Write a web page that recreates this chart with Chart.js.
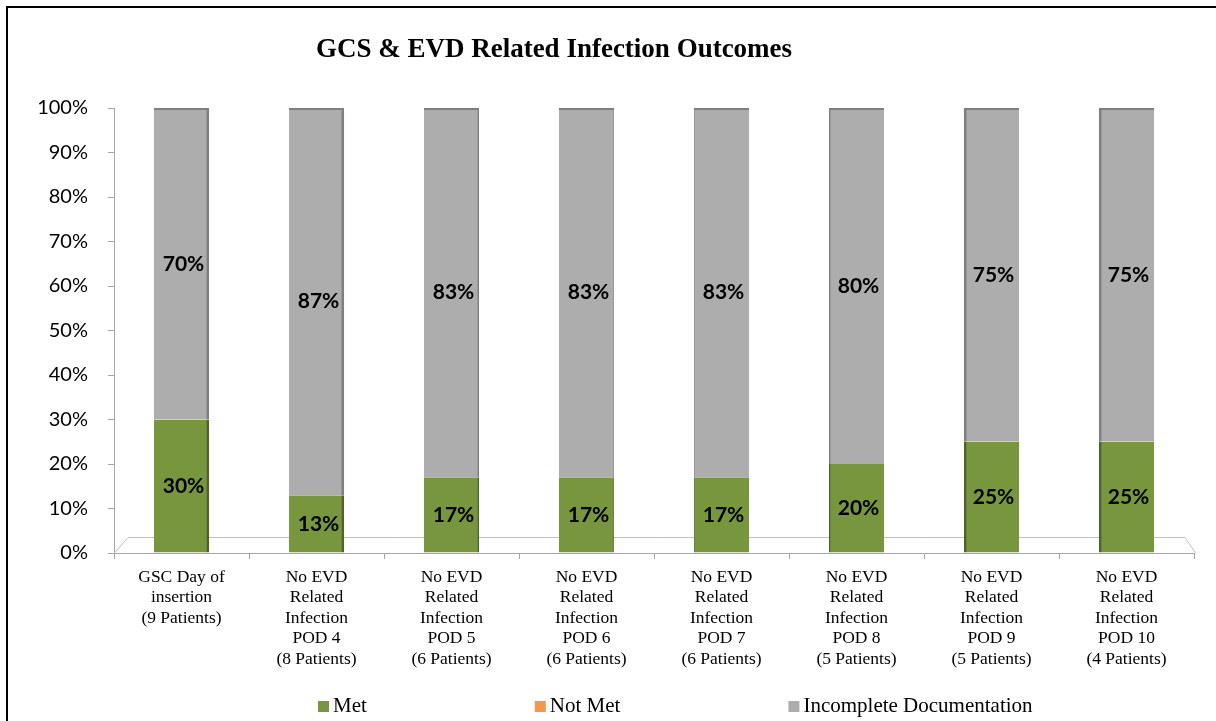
<!DOCTYPE html>
<html>
<head>
<meta charset="utf-8">
<script src="https://cdn.jsdelivr.net/npm/chart.js@4.4.1/dist/chart.umd.min.js"></script>
<style>
  html, body { margin: 0; padding: 0; background: #fff; overflow: hidden; }
  #wrap { position: relative; width: 1216px; height: 721px; overflow: hidden; }
  #frame { position: absolute; left: 6px; top: 6px; width: 1300px; height: 800px; border: 2px solid #000; box-sizing: border-box; pointer-events: none; }
  canvas { position: absolute; left: 0; top: 0; }
</style>
</head>
<body>
<div id="wrap">
  <canvas id="c" width="1216" height="721"></canvas>
  <div id="frame"></div>
</div>
<script>
// ---- Data ----
const chartTitle = "GCS & EVD Related Infection Outcomes";
const categories = [
  ["GSC Day of", "insertion", "(9 Patients)"],
  ["No EVD", "Related", "Infection", "POD 4", "(8 Patients)"],
  ["No EVD", "Related", "Infection", "POD 5", "(6 Patients)"],
  ["No EVD", "Related", "Infection", "POD 6", "(6 Patients)"],
  ["No EVD", "Related", "Infection", "POD 7", "(6 Patients)"],
  ["No EVD", "Related", "Infection", "POD 8", "(5 Patients)"],
  ["No EVD", "Related", "Infection", "POD 9", "(5 Patients)"],
  ["No EVD", "Related", "Infection", "POD 10", "(4 Patients)"]
];
const seriesNames = ["Met", "Not Met", "Incomplete Documentation"];
const metValues = [30, 13, 17, 17, 17, 20, 25, 25];
const notMetValues = [0, 0, 0, 0, 0, 0, 0, 0];
const incompleteValues = [70, 87, 83, 83, 83, 80, 75, 75];
const yTickValues = [0, 10, 20, 30, 40, 50, 60, 70, 80, 90, 100];

// ---- Styles ----
const colors = ["#78963E", "#F79646", "#ADADAD"];
const sideColors = ["#4F6228", "#B65708", "#7F7F7F"];
const axisColor = "#A6A6A6";

function sideBorder(ctx, withTop) {
  const i = ctx.dataIndex;
  const n = categories.length;
  const w = [3, 3, 2, 1, 1, 2, 3, 3][i] || 2;
  const b = { left: 0, right: 0, top: withTop ? 2 : 0, bottom: 0 };
  if (i < n / 2) b.right = w; else b.left = w;
  return b;
}

const titlePlugin = {
  id: "customTitle",
  afterDraw(chart) {
    const ctx = chart.ctx;
    ctx.save();
    ctx.font = "bold 27px 'Liberation Serif', 'Times New Roman', serif";
    ctx.fillStyle = "#000";
    ctx.textAlign = "center";
    ctx.textBaseline = "middle";
    ctx.fillText(chartTitle, 554, 50);
    ctx.restore();
  }
};

const floorPlugin = {
  id: "floor",
  beforeDatasetsDraw(chart) {
    const { left, right, bottom } = chart.chartArea;
    const ctx = chart.ctx;
    ctx.save();
    ctx.strokeStyle = "#BFBFBF";
    ctx.lineWidth = 1;
    ctx.beginPath();
    ctx.moveTo(left, bottom + 0.5);
    ctx.lineTo(left + 14, bottom - 15.5);
    ctx.lineTo(right - 9, bottom - 15.5);
    ctx.lineTo(right + 2, bottom + 0.5);
    ctx.stroke();
    ctx.restore();
  }
};

const valueLabelPlugin = {
  id: "valueLabels",
  afterDatasetsDraw(chart) {
    const ctx = chart.ctx;
    ctx.save();
    ctx.font = "bold 21px Lato, 'Open Sans', sans-serif";
    ctx.fillStyle = "#000";
    ctx.textAlign = "center";
    ctx.textBaseline = "middle";
    chart.data.datasets.forEach((ds, di) => {
      const meta = chart.getDatasetMeta(di);
      meta.data.forEach((bar, i) => {
        const v = ds.data[i];
        if (!v) return;
        const p = bar.getCenterPoint();
        ctx.fillText(v + "%", p.x + 2, p.y);
      });
    });
    ctx.restore();
  }
};

const legendPlugin = {
  id: "customLegend",
  afterDraw(chart) {
    const ctx = chart.ctx;
    ctx.save();
    ctx.font = "21px 'Liberation Serif', 'Times New Roman', serif";
    ctx.textBaseline = "middle";
    ctx.textAlign = "left";
    let x = 318;
    const yc = 706;
    chart.data.datasets.forEach((ds) => {
      ctx.fillStyle = ds.backgroundColor;
      ctx.fillRect(x, yc - 5, 11, 11);
      ctx.fillStyle = "#000";
      ctx.fillText(ds.label, x + 15, yc);
      x += 15 + ctx.measureText(ds.label).width + 168;
    });
    ctx.restore();
  }
};

new Chart(document.getElementById("c"), {
  type: "bar",
  data: {
    labels: categories,
    datasets: [
      { label: seriesNames[0], data: metValues, backgroundColor: colors[0], borderColor: sideColors[0],
        borderWidth: (c) => sideBorder(c, false), borderSkipped: false },
      { label: seriesNames[1], data: notMetValues, backgroundColor: colors[1], borderColor: sideColors[1],
        borderWidth: 0 },
      { label: seriesNames[2], data: incompleteValues, backgroundColor: colors[2], borderColor: sideColors[2],
        borderWidth: (c) => sideBorder(c, true), borderSkipped: false }
    ]
  },
  options: {
    responsive: false,
    animation: false,
    devicePixelRatio: 1,
    layout: { padding: { top: 108, right: 22, bottom: 38, left: 0 } },
    datasets: { bar: { categoryPercentage: 1.0, barPercentage: 0.41 } },
    plugins: {
      legend: { display: false },
      title: { display: false },
      tooltip: { enabled: false }
    },
    scales: {
      x: {
        stacked: true,
        offset: true,
        clip: false,
        afterFit: (s) => { s.height = 130; },
        grid: { display: true, drawOnChartArea: false, drawTicks: true, tickLength: 6, color: axisColor, offset: true },
        border: { display: true, color: axisColor, width: 1 },
        ticks: {
          color: "#000",
          padding: 8,
          maxRotation: 0,
          autoSkip: false,
          font: { family: "'Liberation Serif', 'Times New Roman', serif", size: 17.5, lineHeight: 1.17 }
        }
      },
      y: {
        stacked: true,
        min: 0,
        max: 100,
        afterFit: (s) => { s.width = 114; },
        afterBuildTicks: (s) => { s.ticks = yTickValues.map(v => ({ value: v })); },
        grid: { display: true, drawOnChartArea: false, drawTicks: true, tickLength: 6, color: axisColor },
        border: { display: true, color: axisColor, width: 1 },
        ticks: {
          color: "#000",
          padding: 20,
          font: { family: "Lato, 'Open Sans', sans-serif", size: 20 },
          callback: (v) => v + "%"
        }
      }
    }
  },
  plugins: [floorPlugin, valueLabelPlugin, titlePlugin, legendPlugin]
});
</script>
</body>
</html>
